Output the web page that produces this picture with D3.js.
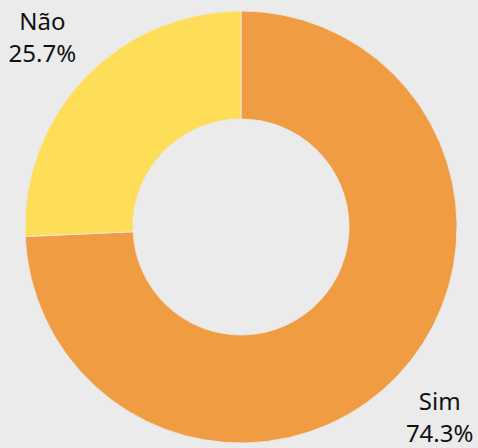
<!DOCTYPE html>
<html>
<head>
<meta charset="utf-8">
<script src="https://cdn.jsdelivr.net/npm/d3@7"></script>
<style>
  body { margin: 0; background: #ebebeb; }
  svg { display: block; }
</style>
</head>
<body>
<div id="chart"></div>
<script>
// dados
var categorias = ["Sim", "Não"];
var valores = [74.3, 25.7];
var cores = ["#f09c42", "#fedd58"];

var w = 478;
var h = 448;
var cx = 241, cy = 227;
var raio = 216;

var svg = d3.select("#chart")
  .append("svg")
  .attr("width", w)
  .attr("height", h);

var g = svg.append("g")
  .attr("transform", "translate(" + cx + "," + cy + ")");

var pie = d3.pie().sort(null).value(function(d) { return d; });
var fatias = pie(valores);

var arc = d3.arc().innerRadius(raio * 0.5).outerRadius(raio);
var arcLabel = d3.arc().innerRadius(275).outerRadius(275);

g.selectAll("path")
  .data(fatias)
  .enter()
  .append("path")
  .attr("d", arc)
  .attr("fill", function(d, i) { return cores[i]; })
  .attr("stroke", "#ebebeb")
  .attr("stroke-width", 0.8);

// rótulos fora da rosca
var rotulos = g.selectAll("text")
  .data(fatias)
  .enter()
  .append("text")
  .attr("text-anchor", "middle")
  .attr("font-family", "Noto Sans, sans-serif")
  .attr("font-size", "24px")
  .attr("fill", "#111");

rotulos.append("tspan")
  .attr("x", function(d) { return arcLabel.centroid(d)[0]; })
  .attr("y", function(d) { return arcLabel.centroid(d)[1] - 7; })
  .text(function(d, i) { return categorias[i]; });

rotulos.append("tspan")
  .attr("x", function(d) { return arcLabel.centroid(d)[0]; })
  .attr("y", function(d) { return arcLabel.centroid(d)[1] + 25; })
  .text(function(d) { return d.value.toFixed(1) + "%"; });
</script>
</body>
</html>
